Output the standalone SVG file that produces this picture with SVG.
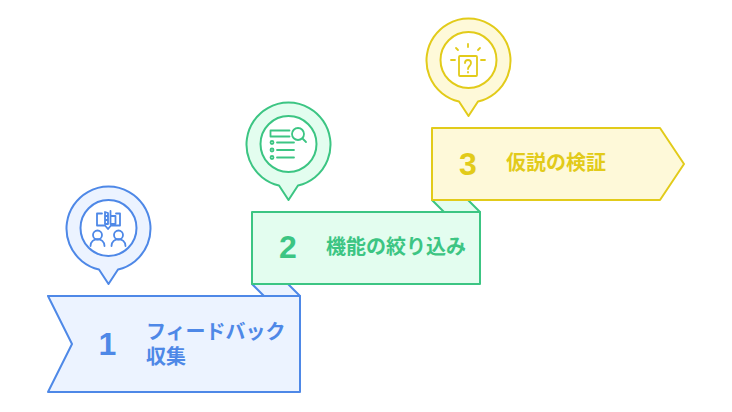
<svg xmlns="http://www.w3.org/2000/svg" width="732" height="412" viewBox="0 0 732 412">
<style>
text{font-weight:700}
.num{font-family:"Liberation Sans",sans-serif;font-size:32px;text-anchor:middle}
.lab{font-family:"Noto Sans CJK JP",sans-serif;font-size:20px}
.s{stroke-width:2;stroke-linejoin:round}
.i{fill:none;stroke-width:1.800;stroke-linecap:round;stroke-linejoin:round}
.blue{stroke:#4e88e7}.blueF{fill:#ecf3ff}.blueT{fill:#4e88e7}
.green{stroke:#3cc583}.greenF{fill:#e3fdef}.greenT{fill:#3cc583}
.yel{stroke:#e2cb1a}.yelF{fill:#fef9d9}.yelT{fill:#e2cb1a}
</style>
<g id="connectors">
<path class="s blue blueF" d="M252 284H288L300 296H264Z"/>
<path class="s green greenF" d="M432 200H468L480 212H444Z"/>
</g>
<g id="node-1">
<path class="s blue blueF" d="M48 296H300V392H48L72 344Z"/>
<text class="num blueT" x="107.500" y="354.500">1</text>
<text class="lab blueT"><tspan x="146" y="338.500">フィードバック</tspan><tspan x="146" y="363.500">収集</tspan></text>
<path class="s blue blueF" d="M99 269.500A42 42 0 1 1 118 269.500L108.500 284Z"/>
<circle class="s blue" cx="108.500" cy="228" r="28" fill="#fff"/>
<g class="i blue">
<path d="M102 213.500H97V225.500H105L108 229L111 225.500H120V213.500H116"/>
<path d="M105 212V224H108V213ZM105 216H108M105 220H108M110.500 211V224H115.500V216H110.500"/>
<circle cx="97.500" cy="235" r="4.500"/>
<path d="M90.500 246C90.500 237 104.500 237 104.500 246"/>
<circle cx="118.500" cy="235" r="4.500"/>
<path d="M111.500 246C111.500 237 125.500 237 125.500 246"/>
</g>
</g>
<g id="node-2">
<path class="s green greenF" d="M252 212H480V284H252Z"/>
<text class="num greenT" x="288" y="258">2</text>
<text class="lab greenT" x="326" y="254">機能の絞り込み</text>
<path class="s green greenF" d="M279 185.500A42 42 0 1 1 298 185.500L288.500 200Z"/>
<circle class="s green" cx="288.500" cy="144" r="28" fill="#fff"/>
<g class="i green">
<path d="M289.500 130.500H270.500V136.500H289.500"/>
<circle cx="298" cy="134" r="6"/>
<path d="M302.500 138.500L306 142"/>
<circle cx="272" cy="142.500" r="1.500"/>
<circle cx="272" cy="150" r="1.500"/>
<circle cx="272" cy="157.500" r="1.500"/>
<path d="M277 142.500H294M277 150H294M277 157.500H294"/>
</g>
</g>
<g id="node-3">
<path class="s yel yelF" d="M432 128H660L684 164L660 200H432Z"/>
<text class="num yelT" x="468" y="174.500">3</text>
<text class="lab yelT" x="506" y="170">仮説の検証</text>
<path class="s yel yelF" d="M459 101.500A42 42 0 1 1 478 101.500L468.500 116Z"/>
<circle class="s yel" cx="468.500" cy="60" r="28" fill="#fff"/>
<g class="i yel">
<rect x="459" y="56" width="18" height="20" rx="1"/>
<path d="M465 63C465 59 471 59 471 63C471 66 468 66 468 69M468 72V72.500"/>
<path d="M468 44V47M456 48L458 50M480 48L478 50M451 60H455M481 60H485"/>
</g>
</g>
</svg>
